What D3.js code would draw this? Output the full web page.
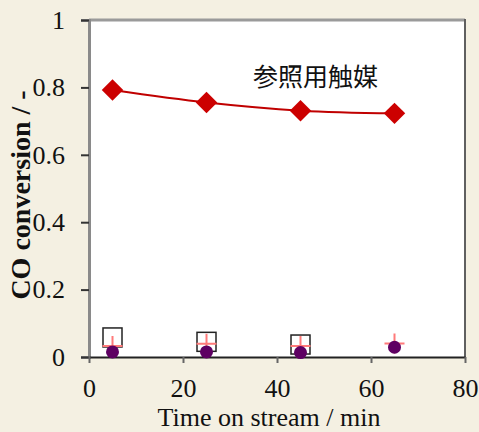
<!DOCTYPE html>
<html lang="ja">
<head>
<meta charset="UTF-8">
<title>CO conversion</title>
<script src="https://d3js.org/d3.v7.min.js"></script>
<style>
    body { margin: 0; background: #f4f0e2; }
    svg { display: block; }
</style>
</head>
<body>
<div id="container"></div>
<script>
    // data
    const times = [5, 25, 45, 65];
    const refCat = [0.792, 0.755, 0.731, 0.723];     // red diamonds, 参照用触媒
    const squareVals = [0.058, 0.045, 0.037, null];  // open squares
    const plusVals = [0.033, 0.039, 0.033, 0.040];   // pink crosses
    const dotVals = [0.015, 0.015, 0.013, 0.029];    // purple dots
    const xTicks = [0, 20, 40, 60, 80];
    const yTicks = [0, 0.2, 0.4, 0.6, 0.8, 1];

    const width = 479, height = 432;
    const plotL = 89, plotR = 465, plotT = 20, plotB = 357;
    const serif = '"Liberation Serif", "Times New Roman", serif';

    const svg = d3.select('#container').append('svg')
        .attr('width', width).attr('height', height);

    const x = d3.scaleLinear().domain([0, 80]).range([plotL, plotR]);
    const y = d3.scaleLinear().domain([0, 1]).range([plotB, plotT]);

    // plot area
    svg.append('rect')
        .attr('x', plotL).attr('y', plotT)
        .attr('width', plotR - plotL).attr('height', plotB - plotT)
        .attr('fill', '#fff');

    // frame: top and right
    svg.append('line').attr('x1', plotL).attr('x2', plotR).attr('y1', plotT).attr('y2', plotT)
        .attr('stroke', '#9a9a9a').attr('stroke-width', 3);
    svg.append('line').attr('x1', plotR).attr('x2', plotR).attr('y1', plotT - 1).attr('y2', plotB)
        .attr('stroke', '#606060').attr('stroke-width', 2);

    // y axis
    const yAxis = svg.append('g')
        .attr('transform', `translate(${plotL},0)`)
        .call(d3.axisLeft(y).tickValues(yTicks).tickSize(8).tickPadding(16)
            .tickFormat(d => d === 0 || d === 1 ? d3.format('d')(d) : d3.format('.1f')(d)));
    yAxis.select('.domain').attr('stroke', '#8a8a8a').attr('stroke-width', 3);
    yAxis.selectAll('.tick line').attr('stroke', '#333').attr('stroke-width', 2);

    // x axis
    const xAxis = svg.append('g')
        .attr('transform', `translate(0,${plotB})`)
        .call(d3.axisBottom(x).tickValues(xTicks).tickSize(6).tickPadding(16).tickSizeOuter(0));
    xAxis.select('.domain').attr('stroke', '#222').attr('stroke-width', 2);
    xAxis.selectAll('.tick line').attr('stroke', '#666').attr('stroke-width', 2);

    // tick label font
    svg.selectAll('.tick text')
        .style('font-family', serif)
        .style('font-size', '26px')
        .attr('fill', '#111');

    // axis titles
    svg.append('text')
        .attr('x', 269).attr('y', 426)
        .attr('text-anchor', 'middle')
        .style('font-family', serif)
        .style('font-size', '26px')
        .attr('fill', '#111')
        .text('Time on stream / min');

    svg.append('text')
        .attr('transform', 'translate(30,195) rotate(-90)')
        .attr('text-anchor', 'middle')
        .style('font-family', serif)
        .style('font-size', '28px')
        .style('font-weight', 'bold')
        .attr('fill', '#111')
        .text('CO conversion / -');

    // reference catalyst line
    const refData = times.map((t, i) => ({ t: t, v: refCat[i] }));
    svg.append('path')
        .datum(refData)
        .attr('fill', 'none')
        .attr('stroke', '#c00000')
        .attr('stroke-width', 2)
        .attr('d', d3.line().x(d => x(d.t)).y(d => y(d.v)).curve(d3.curveCatmullRom.alpha(0.5)));

    svg.selectAll('.diamond')
        .data(refData).enter()
        .append('path')
        .attr('class', 'diamond')
        .attr('transform', d => `translate(${x(d.t)},${y(d.v)}) rotate(45)`)
        .attr('d', d3.symbol().type(d3.symbolSquare).size(230))
        .attr('fill', '#cc0000');

    // open squares
    const sqData = times.map((t, i) => ({ t: t, v: squareVals[i] })).filter(d => d.v !== null);
    svg.selectAll('.sq')
        .data(sqData).enter()
        .append('rect')
        .attr('class', 'sq')
        .attr('x', d => x(d.t) - 9.5).attr('y', d => y(d.v) - 9.5)
        .attr('width', 19).attr('height', 19)
        .attr('fill', 'none').attr('stroke', '#222').attr('stroke-width', 1.5);

    // crosses
    const plusData = times.map((t, i) => ({ t: t, v: plusVals[i] }));
    svg.selectAll('.plus')
        .data(plusData).enter()
        .append('path')
        .attr('class', 'plus')
        .attr('d', d => {
            const cx = x(d.t), cy = y(d.v);
            return `M${cx - 10},${cy}H${cx + 10}M${cx},${cy - 10}V${cy + 10}`;
        })
        .attr('stroke', '#ff7a7a').attr('stroke-width', 2).attr('fill', 'none');

    // dots
    const dotData = times.map((t, i) => ({ t: t, v: dotVals[i] }));
    svg.selectAll('.dot')
        .data(dotData).enter()
        .append('circle')
        .attr('class', 'dot')
        .attr('cx', d => x(d.t)).attr('cy', d => y(d.v))
        .attr('r', 6.5)
        .attr('fill', '#5e0062');

    // label
    svg.append('text')
        .attr('x', 253).attr('y', 86)
        .style('font-family', '"Noto Sans CJK JP", sans-serif')
        .style('font-size', '25px')
        .attr('fill', '#111')
        .text('参照用触媒');
</script>
</body>
</html>
